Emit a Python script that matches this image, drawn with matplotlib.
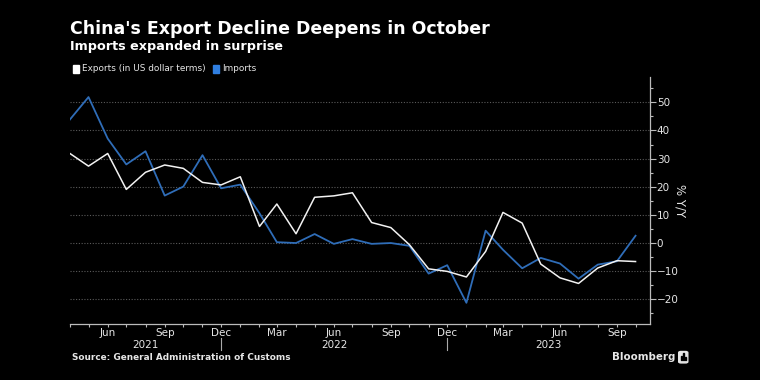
"""China exports vs imports, % Y/Y, Bloomberg style dark chart."""

import matplotlib
matplotlib.use("Agg")

import matplotlib.dates as mdates
import matplotlib.pyplot as plt
import matplotlib.transforms as mtransforms
import pandas as pd
from matplotlib.patches import FancyBboxPatch, Rectangle


months = pd.date_range("2021-04-01", "2023-10-01", freq="MS")

exports = [31.8, 27.3, 31.8, 19.0, 25.1, 27.7, 26.5, 21.5, 20.6,
           23.5, 5.8, 13.8, 3.2, 16.2, 16.7, 17.8, 7.2, 5.4, -0.7, -9.3, -10.2,
           -12.2, -3.1, 10.8, 7.0, -7.6, -12.5, -14.5, -9.0, -6.4, -6.7]
imports = [43.9, 51.9, 37.1, 27.9, 32.6, 16.8, 20.0, 31.2, 19.4,
           20.7, 10.5, 0.2, -0.1, 3.1, -0.4, 1.3, -0.4, -0.1, -1.1, -11.0, -8.0,
           -21.4, 4.3, -2.5, -9.1, -5.4, -7.4, -12.8, -7.8, -6.6, 2.5]

y_ticks = [-20, -10, 0, 10, 20, 30, 40, 50]
years = ["2021", "2022", "2023"]
year_splits = ["2021-12-01", "2022-12-01"]

BG = "#000000"
FG = "#e6e6e6"
BLUE = "#2f6db8"
GRID = "#5a5a5a"


def main() -> None:
    fig = plt.figure(figsize=(7.6, 3.8), dpi=100)
    fig.patch.set_facecolor(BG)
    ax = fig.add_axes([0.092, 0.147, 0.763, 0.650])
    ax.set_facecolor(BG)

    ax.plot(months, imports, color=BLUE, linewidth=1.3, zorder=3)
    ax.plot(months, exports, color="#f2f2f2", linewidth=1.1, zorder=4)

    x0 = mdates.date2num(pd.Timestamp("2021-04-01"))
    x1 = mdates.date2num(pd.Timestamp("2023-10-24"))
    ax.set_xlim(x0, x1)
    ax.set_ylim(-29, 59)

    # y axis on the right
    ax.yaxis.tick_right()
    ax.set_yticks(y_ticks)
    ax.set_yticks([-25, -15, -5, 5, 15, 25, 35, 45, 55], minor=True)
    ax.tick_params(axis="y", which="major", length=4, width=0.8, color="#bbbbbb",
                   labelcolor=FG, labelsize=7.5, pad=1)
    ax.tick_params(axis="y", which="minor", length=2.5, width=0.8, color="#bbbbbb")
    ax.grid(axis="y", which="major", color=GRID, linestyle=(0, (1, 1.5)), linewidth=0.8)
    ax.set_axisbelow(True)

    # x axis: monthly minor ticks, quarterly labels
    ax.xaxis.set_major_locator(mdates.MonthLocator(bymonth=[3, 6, 9, 12]))
    ax.xaxis.set_major_formatter(mdates.DateFormatter("%b"))
    ax.xaxis.set_minor_locator(mdates.MonthLocator())
    ax.tick_params(axis="x", which="both", length=2.5, width=0.8, color="#bbbbbb",
                   labelcolor=FG, labelsize=7.5, pad=0.5)

    for side in ("top", "left"):
        ax.spines[side].set_visible(False)
    for side in ("right", "bottom"):
        ax.spines[side].set_color("#bbbbbb")
        ax.spines[side].set_linewidth(0.9)

    ax.set_ylabel("% Y/Y", color=FG, fontsize=8.5, rotation=-90, labelpad=6)
    ax.yaxis.set_label_position("right")

    # year labels and separators under the month labels
    trans = mtransforms.blended_transform_factory(ax.transData, ax.transAxes)
    edges = [x0] + [mdates.date2num(pd.Timestamp(d)) for d in year_splits] + [x1]
    for i, yr in enumerate(years):
        mid = (edges[i] + edges[i + 1]) / 2
        ax.text(mid, -0.085, yr, transform=trans, ha="center", va="center",
                color=FG, fontsize=7.5)
    for d in year_splits:
        xd = mdates.date2num(pd.Timestamp(d))
        ax.plot([xd, xd], [-0.058, -0.105], transform=trans, color="#aaaaaa",
                linewidth=0.8, clip_on=False)

    # titles
    fig.text(0.092, 0.925, "China's Export Decline Deepens in October",
             color="white", fontsize=12.5, weight="bold", va="center")
    fig.text(0.092, 0.877, "Imports expanded in surprise",
             color="white", fontsize=9.2, weight="bold", va="center")

    # legend
    ly = 0.82
    fig.patches.append(Rectangle((0.096, ly - 0.011), 0.0085, 0.019,
                                 transform=fig.transFigure, color="white"))
    fig.text(0.108, ly, "Exports (in US dollar terms)", color=FG, fontsize=6.4, va="center")
    fig.patches.append(Rectangle((0.280, ly - 0.011), 0.0085, 0.019,
                                 transform=fig.transFigure, color="#2f7ee0"))
    fig.text(0.292, ly, "Imports", color=FG, fontsize=6.4, va="center")

    # footer
    fig.text(0.095, 0.06, "Source: General Administration of Customs",
             color=FG, fontsize=6.4, weight="bold", va="center")
    fig.text(0.805, 0.06, "Bloomberg", color=FG, fontsize=7.4, weight="bold", va="center")
    fig.patches.append(FancyBboxPatch((0.893, 0.045), 0.012, 0.03,
                                      boxstyle="round,pad=0,rounding_size=0.003",
                                      transform=fig.transFigure, color=FG))
    for bx, bh in zip([0.8955, 0.8985, 0.9015], [0.012, 0.02, 0.009]):
        fig.patches.append(Rectangle((bx, 0.052), 0.0015, bh,
                                     transform=fig.transFigure, color=BG))

    fig.savefig("out.png", dpi=100, facecolor=BG)
    plt.close(fig)


if __name__ == "__main__":
    main()
